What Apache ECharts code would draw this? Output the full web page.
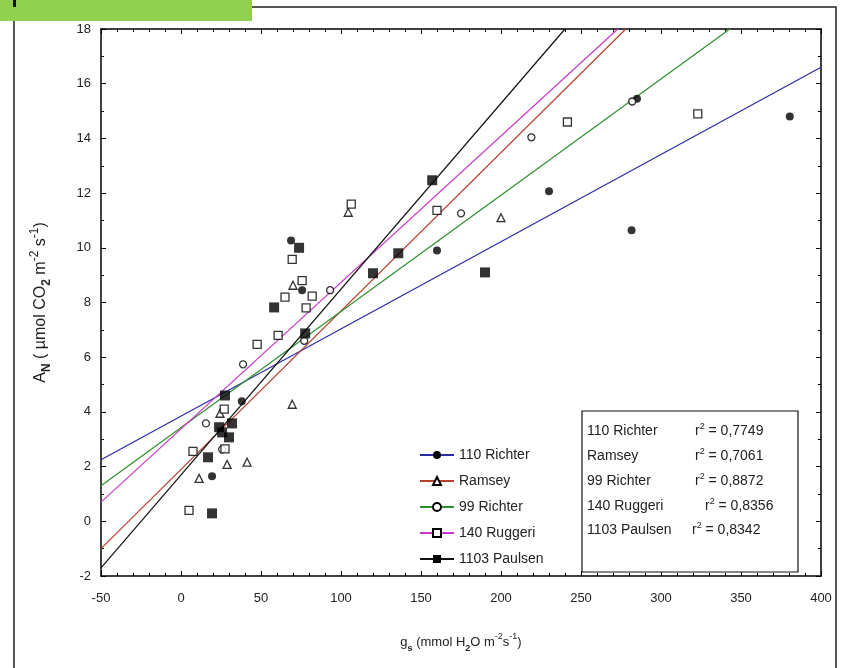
<!DOCTYPE html>
<html>
<head>
<meta charset="utf-8">
<script src="https://cdn.jsdelivr.net/npm/echarts@6/dist/echarts.min.js"></script>
<style>
html,body{margin:0;padding:0;background:#fff;}
#chart{width:848px;height:668px;}
</style>
</head>
<body>
<div id="chart"></div>
<script>
// ---- data ----
const seriesNames = ['110 Richter', 'Ramsey', '99 Richter', '140 Ruggeri', '1103 Paulsen'];

const richter110 = [[68.8,10.27],[38,4.39],[19.4,1.65],[160,9.9],[230,12.07],[281.6,10.64],[380.5,14.8],[285,15.45],[75.7,8.45]];
const ramsey = [[104.5,11.3],[70,8.63],[69.5,4.28],[200,11.1],[11.3,1.57],[28.8,2.08],[41.3,2.16],[24.4,3.95]];
const richter99 = [[15.6,3.58],[38.8,5.74],[93.2,8.45],[175,11.26],[219,14.04],[282,15.35],[77,6.6],[25.7,2.63]];
const ruggeri140 = [[106.4,11.6],[69.5,9.58],[65,8.2],[82,8.23],[78.2,7.8],[60.7,6.8],[47.6,6.47],[160,11.37],[241.5,14.6],[323,14.9],[75.7,8.8],[27,4.1],[7.5,2.56],[5,0.4],[27.5,2.65]];
const paulsen1103 = [[73.8,10.0],[58.2,7.82],[77.6,6.87],[120,9.07],[135.8,9.8],[157,12.47],[190,9.1],[27.5,4.6],[23.8,3.44],[25.7,3.25],[30,3.07],[31.9,3.58],[16.9,2.34],[19.4,0.29]];

// regression lines (end points)
const line110 = [[-50,2.25],[400,16.6]];
const lineRamsey = [[-50,-1.0],[278,18]];
const line99 = [[-50,1.3],[343,18]];
const line140 = [[-50,0.7],[273,18]];
const line1103 = [[-50,-1.7],[240,18]];

const r2Names = ['110 Richter', 'Ramsey', '99 Richter', '140 Ruggeri', '1103 Paulsen'];
const r2Values = ['0,7749', '0,7061', '0,8872', '0,8356', '0,8342'];

const xMin = -50, xMax = 400, xStep = 50;
const yMin = -2, yMax = 18, yStep = 2;

// ---- styles ----
const lineColors = ['#2b2ba8', '#b8402c', '#2f8f2f', '#c838c8', '#111111'];
const legendSymbols = ['circle', 'emptyTriangle', 'emptyCircle', 'emptyRect', 'rect'];
const pointData = [richter110, ramsey, richter99, ruggeri140, paulsen1103];
const lineData = [line110, lineRamsey, line99, line140, line1103];
const pointSymbols = ['circle', 'triangle', 'circle', 'rect', 'rect'];
const pointSizes = [8, 8, 7, 8, 10];
const pointFilled = [true, false, false, false, true];

const font = "'Liberation Sans', Arial, sans-serif";
function richAxis(size) {
  return {
    a: {fontSize: size, fontFamily: font, color: '#222', lineHeight: size + 8, verticalAlign: 'middle'},
    sub: {fontSize: size - 4, fontFamily: font, color: '#222', verticalAlign: 'bottom', fontWeight: 'bold'},
    sup: {fontSize: size - 4, fontFamily: font, color: '#222', verticalAlign: 'top'}
  };
}

const series = [];
for (let i = 0; i < seriesNames.length; i++) {
  series.push({
    name: seriesNames[i], type: 'line', data: lineData[i],
    symbol: legendSymbols[i], symbolSize: 7, showSymbol: false,
    lineStyle: {color: lineColors[i], width: 1.2},
    itemStyle: {color: '#000'},
    silent: true, z: 2, animation: false
  });
}
for (let i = 0; i < seriesNames.length; i++) {
  series.push({
    name: seriesNames[i], type: 'scatter', data: pointData[i],
    symbol: pointSymbols[i], symbolSize: pointSizes[i],
    itemStyle: pointFilled[i] ? {color: '#000'} : {color: '#fff', borderColor: '#000', borderWidth: 1.3},
    z: 3, animation: false
  });
}

const axisCommon = {
  axisLine: {show: true, onZero: false, lineStyle: {color: '#000', width: 1.5}},
  axisTick: {show: true, inside: true, length: 5, lineStyle: {color: '#000', width: 1}},
  minorTick: {show: true, length: 3, lineStyle: {color: '#000', width: 1}},
  splitLine: {show: false}
};

const graphics = [
  {type: 'rect', shape: {x: 14, y: 7, width: 822, height: 670}, style: {fill: 'none', stroke: '#222', lineWidth: 1.5}, z: 0},
  {type: 'rect', shape: {x: 0, y: 0, width: 252, height: 21}, style: {fill: '#92d050'}, z: 10},
  {type: 'rect', shape: {x: 13, y: 0, width: 3, height: 7}, style: {fill: '#111'}, z: 11},
  {type: 'rect', shape: {x: 582, y: 411, width: 216, height: 161}, style: {fill: '#fff', stroke: '#111', lineWidth: 1.2}, z: 20}
];
const r2Rows = [431, 456, 481, 506, 530];
const r2X = [695, 695, 695, 705, 692];
for (let i = 0; i < r2Names.length; i++) {
  graphics.push({type: 'text', x: 587, y: r2Rows[i], z: 21,
    style: {text: r2Names[i], font: '14px ' + font, fill: '#222', verticalAlign: 'middle'}});
  graphics.push({type: 'text', x: r2X[i], y: r2Rows[i], z: 21,
    style: {text: '{r|r}{s|2}{r| = ' + r2Values[i] + '}', verticalAlign: 'middle',
      rich: {r: {fontSize: 14, fontFamily: font, fill: '#222', lineHeight: 18, verticalAlign: 'middle'},
             s: {fontSize: 9, fontFamily: font, fill: '#222', verticalAlign: 'top'}}}});
}

const option = {
  backgroundColor: '#fff',
  animation: false,
  grid: {left: 101, right: 27, top: 29, bottom: 92, containLabel: false},
  legend: {
    data: seriesNames, orient: 'vertical', left: 414, top: 443,
    itemWidth: 34, itemHeight: 10, itemGap: 12,
    textStyle: {fontSize: 14, fontFamily: font, color: '#222'},
    selectedMode: false
  },
  xAxis: [
    Object.assign({}, axisCommon, {
      type: 'value', min: xMin, max: xMax, interval: xStep, position: 'bottom',
      minorTick: Object.assign({}, axisCommon.minorTick, {splitNumber: 5}),
      axisLabel: {color: '#222', fontSize: 13, fontFamily: font, margin: 16},
      name: '{a|g}{sub|s}{a| (mmol H}{sub|2}{a|O m}{sup|-2}{a|s}{sup|-1}{a|)}',
      nameLocation: 'middle', nameGap: 56,
      nameTextStyle: {rich: richAxis(13)}
    }),
    Object.assign({}, axisCommon, {
      type: 'value', min: xMin, max: xMax, interval: xStep, position: 'top',
      minorTick: Object.assign({}, axisCommon.minorTick, {splitNumber: 5}),
      axisLabel: {show: false}
    })
  ],
  yAxis: [
    Object.assign({}, axisCommon, {
      type: 'value', min: yMin, max: yMax, interval: yStep, position: 'left',
      minorTick: Object.assign({}, axisCommon.minorTick, {splitNumber: 2}),
      axisLabel: {color: '#222', fontSize: 13, fontFamily: font, margin: 10},
      name: '{a|A}{sub|N}{a| ( µmol CO}{sub|2}{a| m}{sup|-2}{a| s}{sup|-1}{a|)}',
      nameLocation: 'middle', nameGap: 48, nameRotate: 90,
      nameTextStyle: {rich: richAxis(16)}
    }),
    Object.assign({}, axisCommon, {
      type: 'value', min: yMin, max: yMax, interval: yStep, position: 'right',
      minorTick: Object.assign({}, axisCommon.minorTick, {splitNumber: 2}),
      axisLabel: {show: false}
    })
  ],
  series: series,
  graphic: graphics
};

const chart = echarts.init(document.getElementById('chart'), null, {renderer: 'canvas'});
chart.setOption(option);
</script>
</body>
</html>
